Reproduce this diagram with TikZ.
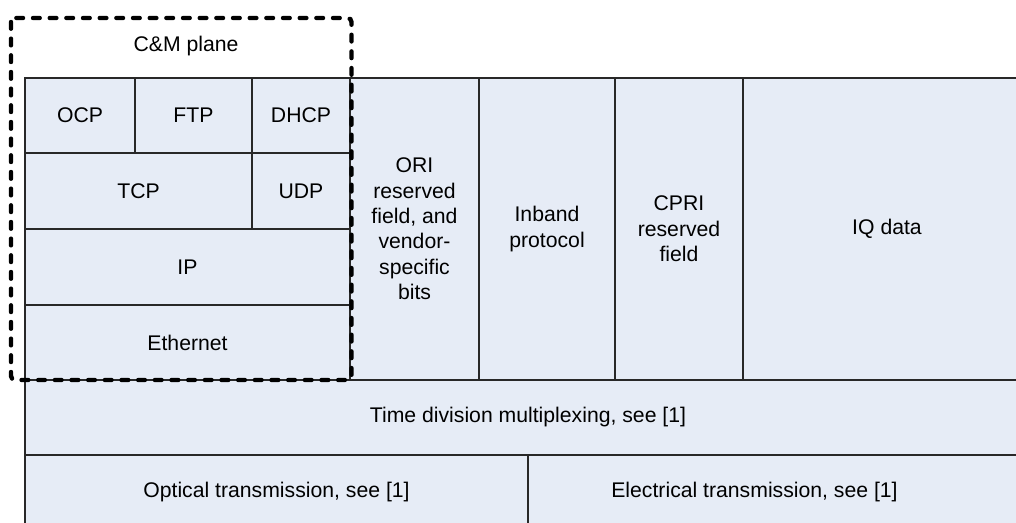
\documentclass[tikz,border=0pt]{standalone}
\usepackage{fontspec}
\setmainfont{Liberation Sans}
\definecolor{cellfill}{RGB}{230,236,246}
\definecolor{cellline}{RGB}{40,40,40}
\newcommand\mkcell[6]{\node[cellbox, minimum width={(#4-#2)*0.75pt}, minimum height={(#5-#3)*0.75pt}] (#1) at ({(#2+#4)/2},{(#3+#5)/2}) {#6};}
\begin{document}
\begin{tikzpicture}[x=0.75pt,y=-0.75pt,
  cellbox/.style={draw=cellline, line width=0.9pt, fill=cellfill, inner sep=0pt, outer sep=0pt, align=center, font=\fontsize{15.9}{19}\selectfont},
  celltext/.style={inner sep=0pt, align=center, font=\fontsize{15.9}{19}\selectfont},
  cmbox/.style={draw=black, line width=3.3pt, dash pattern=on 5pt off 7.5pt, line cap=round, rounded corners=3pt}]
\useasboundingbox (0,0) rectangle (1016,522);
\clip (0,0) rectangle (1016,522);
% C&M plane stack
\mkcell{ocp}{25}{78}{135}{153}{OCP}
\mkcell{ftp}{135}{78}{252}{153}{FTP}
\mkcell{dhcp}{252}{78}{350}{153}{DHCP}
\mkcell{tcp}{25}{153}{252}{229}{TCP}
\mkcell{udp}{252}{153}{350}{229}{UDP}
\mkcell{ip}{25}{229}{350}{305}{IP}
\mkcell{eth}{25}{305}{350}{380}{Ethernet}
% other fields
\mkcell{ori}{350}{78}{479}{380}{ORI\\reserved\\field, and\\vendor-\\specific\\bits}
\mkcell{inband}{479}{78}{615}{380}{Inband\\protocol}
\mkcell{cpri}{615}{78}{743}{380}{CPRI\\reserved\\field}
\mkcell{iq}{743}{78}{1030}{380}{}
\node[celltext] (iqt) at (887,229) {IQ data};
% TDM
\mkcell{tdm}{25}{380}{1030}{455}{}
\node[celltext] (tdmt) at (528,417.5) {Time division multiplexing, see [1]};
% transmission
\mkcell{opt}{25}{455}{528}{530}{Optical transmission, see [1]}
\mkcell{elec}{528}{455}{1030}{530}{}
\node[celltext] (elect) at (754.5,492) {Electrical transmission, see [1]};
% dashed C&M plane box
\draw[cmbox] (11,18) rectangle (351.5,380);
\node[celltext] (cm) at (186,46) {C\&M plane};
\end{tikzpicture}
\end{document}
